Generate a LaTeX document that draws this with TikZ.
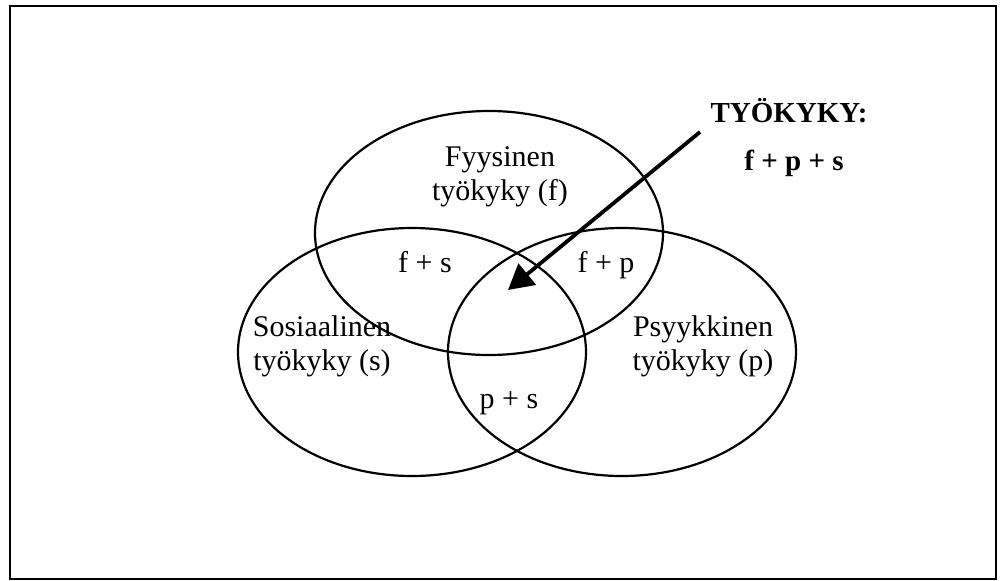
\documentclass[tikz,border=0pt]{standalone}
\usepackage{fontspec}
\setmainfont{Liberation Serif}
\usetikzlibrary{arrows.meta}
\begin{document}
\begin{tikzpicture}[x=1pt,y=-1pt,
  circ/.style={line width=2.2pt},
  lbl/.style={anchor=base,inner sep=0pt,align=center,font=\fontsize{30}{34}\selectfont},
  bold/.style={anchor=base,inner sep=0pt,font=\fontsize{29}{34}\selectfont\bfseries},
  pointer/.style={line width=3.8pt,-{Triangle[length=25pt,width=27pt]}}]
\useasboundingbox (0,0) rectangle (1002,581);
\node[draw,line width=2.2pt,minimum width=986pt,minimum height=573pt,inner sep=0pt] (frame) at (503,292.5) {};
\coordinate (cf) at (489,233);
\coordinate (cs) at (412,352);
\coordinate (cp) at (622,352);
\draw[circ] (cf) ellipse [x radius=174, y radius=122];
\draw[circ] (cs) ellipse [x radius=174, y radius=124];
\draw[circ] (cp) ellipse [x radius=174, y radius=124];
\node[lbl] (fys) at (500,200) {Fyysinen\\työkyky (f)};
\node[lbl] (sos) at (322,370) {Sosiaalinen\\työkyky (s)};
\node[lbl] (psy) at (703,370) {Psyykkinen\\työkyky (p)};
\node[lbl] (fs) at (425,272) {f + s};
\node[lbl] (fp) at (606,272) {f + p};
\node[lbl] (ps) at (509,408) {p + s};
\node[bold] (tk) at (789,122) {TYÖKYKY:};
\node[bold] (fps) at (794,170) {f + p + s};
\coordinate (astart) at (700,132);
\coordinate (atip) at (508,290);
\draw[pointer] (astart) -- (atip);
\end{tikzpicture}
\end{document}
